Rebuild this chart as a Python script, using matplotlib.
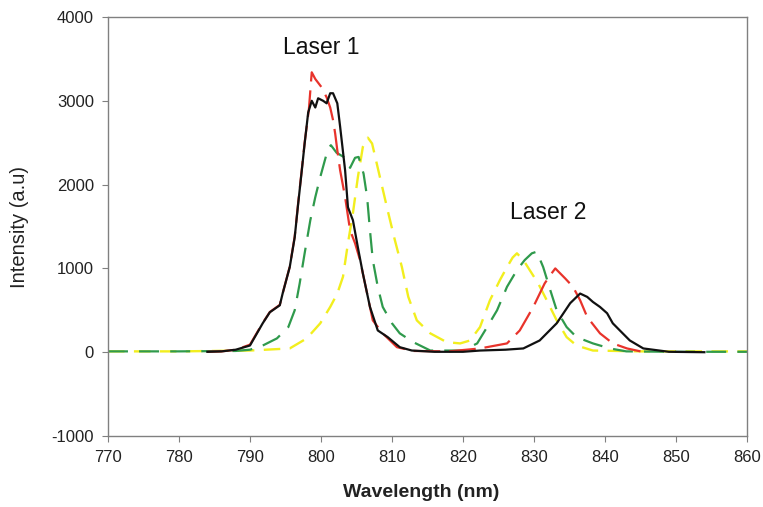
import matplotlib
matplotlib.use("Agg")
import matplotlib.pyplot as plt

plt.rcParams['font.family'] = ['Liberation Sans', 'DejaVu Sans']
plt.rcParams['axes.unicode_minus'] = False

# Emission spectra (wavelength in nm, intensity in a.u.)
black_nm = [784, 786, 788, 790, 791.8, 792.8, 794.2, 794.6, 795.6, 796.3, 796.8, 797.3, 797.7,
            798.2, 798.7, 799.2, 799.6, 800.3, 800.8, 801.3, 801.7, 802.3, 802.7, 803.4, 803.8,
            804.5, 805.2, 805.9, 806.9, 808.0, 809.4, 811.1, 812.8, 816, 820, 822.4, 826,
            828.5, 830.8, 833.2, 835.1, 836.5, 837.5, 838.3, 839.3, 840.3, 841.1, 842.5, 843.5,
            845.4, 849, 854]
black_int = [5, 10, 30, 80, 346, 477, 560, 700, 1015, 1370, 1780, 2170, 2490,
             2860, 3000, 2920, 3030, 3000, 2970, 3090, 3090, 2970, 2690, 2170, 1730,
             1575, 1250, 940, 540, 260, 180, 60, 20, 5, 5, 20, 30,
             45, 140, 345, 585, 700, 660, 600, 540, 465, 345, 225, 140,
             45, 5, 0]

red_nm = [784, 786, 788, 790, 791.8, 792.8, 794.2, 794.6, 795.6, 796.3, 796.8, 797.3, 797.7,
          798.3, 798.7, 799.2, 800.1, 800.8, 801.3, 801.7, 802.0, 802.3, 802.7, 803.4, 804.1,
          804.8, 805.5, 806.5, 807.3, 808.7, 810.7, 813, 818, 822.4, 826.2, 828.0, 829.9,
          831.5, 832.3, 833.0, 833.7, 834.4, 835.5, 836.5, 837.5, 839.3, 841.1, 843.1, 845]
red_int = [5, 10, 30, 90, 350, 480, 565, 700, 1020, 1380, 1790, 2180, 2500,
           2900, 3340, 3260, 3160, 3040, 2920, 2770, 2610, 2410, 2170, 1850, 1455,
           1300, 1100, 700, 380, 225, 60, 15, 10, 45, 105, 260, 540,
           820, 920, 1000, 940, 880, 780, 620, 420, 225, 105, 45, 10]

green_nm = [770, 780, 788, 790, 791.8, 793.8, 795.4, 796.3, 797.0, 797.7, 798.5, 799.2, 799.9,
            801.0, 801.4, 802.2, 803.4, 804.1, 804.8, 805.3, 806.0, 806.5, 806.9, 807.3, 808.0,
            808.7, 810.0, 811.1, 813.0, 815.4, 820.0, 822.0, 823.4, 824.8, 826.2, 827.6, 828.7,
            829.7, 830.4, 831.3, 832.3, 833.2, 834.6, 836.0, 838.3, 840.7, 843, 850, 860]
green_int = [10, 10, 15, 30, 80, 165, 300, 500, 820, 1180, 1575, 1850, 2090,
             2430, 2470, 2380, 2320, 2200, 2320, 2330, 2130, 1850, 1455, 1100, 780,
             540, 345, 225, 120, 20, 20, 105, 300, 500, 780, 980, 1100,
             1180, 1200, 1015, 740, 500, 300, 180, 105, 45, 10, 5, 5]

yellow_nm = [770, 780, 790, 795.6, 798.0, 799.9, 801.3, 802.3, 803.1, 803.8, 804.5, 805.2, 805.9,
             806.6, 807.2, 808.3, 809.4, 810.4, 811.4, 812.3, 813.5, 815.4, 817.7, 819.6, 821.0,
             822.4, 823.8, 825.2, 826.2, 827.0, 827.6, 828.5, 829.4, 830.6, 831.8, 833.2, 834.6,
             836.0, 838.3, 845, 860]
yellow_int = [10, 10, 20, 45, 165, 345, 540, 700, 900, 1300, 1660, 2090, 2450,
              2560, 2490, 2090, 1690, 1340, 1015, 660, 380, 225, 120, 105, 140,
              300, 620, 860, 1015, 1130, 1180, 1100, 980, 820, 620, 380, 180,
              80, 20, 10, 10]

x_ticks = [770, 780, 790, 800, 810, 820, 830, 840, 850, 860]
y_ticks = [-1000, 0, 1000, 2000, 3000, 4000]

fig = plt.figure(figsize=(7.63, 5.07), dpi=100)
ax = fig.add_axes([0.1415, 0.140, 0.8375, 0.8265])

ax.plot(yellow_nm, yellow_int, color='#f2ee1e', lw=1.7, dashes=(7, 4))
ax.plot(green_nm, green_int, color='#2f9a4c', lw=1.6, dashes=(9, 5))
ax.plot(red_nm, red_int, color='#e8332b', lw=1.6, dashes=(12, 4))
ax.plot(black_nm, black_int, color='#111111', lw=1.6)

ax.set_xlim(770, 860)
ax.set_ylim(-1000, 4000)
ax.set_xticks(x_ticks)
ax.set_yticks(y_ticks)

for s in ax.spines.values():
    s.set_color('#808080')
    s.set_linewidth(1.0)
ax.tick_params(axis='both', direction='out', length=4, color='#808080',
               labelsize=12, labelcolor='#222222')
ax.tick_params(axis='x', pad=6)
ax.tick_params(axis='y', pad=6)

ax.set_xlabel('Wavelength (nm)', fontsize=14, fontweight='bold', color='#222222')
ax.set_ylabel('Intensity (a.u)', fontsize=14.5, color='#222222')
ax.xaxis.set_label_coords(0.49, -0.115)
ax.yaxis.set_label_coords(-0.124, 0.5)

ax.text(800.1, 3640, 'Laser 1', fontsize=16.5, ha='center', va='center', color='#111111')
ax.text(832, 1670, 'Laser 2', fontsize=16.5, ha='center', va='center', color='#111111')

fig.savefig('out.png', dpi=100)
